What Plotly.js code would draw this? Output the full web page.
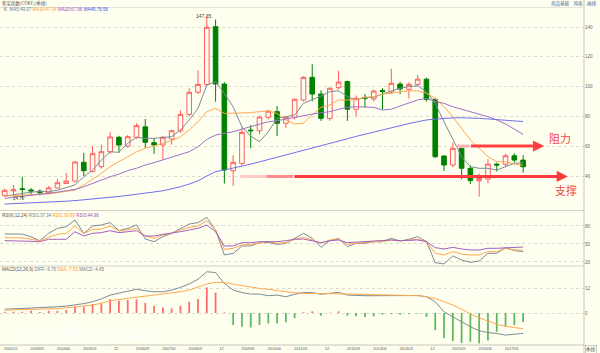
<!DOCTYPE html>
<html><head><meta charset="utf-8">
<script src="https://cdn.plot.ly/plotly-3.0.1.min.js"></script>
<style>html,body{margin:0;padding:0;background:#FFFFEF;}#chart{width:600px;height:353px;}</style>
</head><body><div id="chart"></div>
<script>
const quarters = ['200212','200303','200306','200309','200312','200403','200406','200409','200412','200503','200506','200509','200512','200603','200606','200609','200612','200703','200706','200709','200712','200803','200806','200809','200812','200903','200906','200909','200912','201003','201006','201009','201012','201103','201106','201109','201112','201203','201206','201209','201212','201303','201306','201309','201312','201403','201406','201409','201412','201503','201506','201509','201512','201603','201606','201609','201612','201703','201706','201709'];
const openP  = [27,30,31.5,30.6,29.9,28.8,32,35,36.6,49.2,43,46.3,56.3,66,60.1,66,73,62.4,60.8,64.8,70.4,81.4,96.2,101.5,140.2,101.7,43.6,48.5,70.8,70.4,79.4,83.2,75.4,79.4,91,106.2,95,78.7,99.3,103.4,84.8,92.6,91.7,97.4,96.4,101.7,98.2,101.5,105,91.5,53.4,47.4,58.6,45.2,36.8,38,48,47.9,53.6,50.7];
const highP  = [31.5,34,39.5,32,31,33.3,38,42,50,55.4,60,61,69.7,67,67.5,75.4,78.3,65.5,67,71,84,99,111,147.35,145,103,54,73,74.2,80,84,87,80,92,107,115,97.5,99.5,110.7,104,94,95,98,99,112,103,103,107.8,106,92,54,62.4,59,47,41.8,51.4,49,55,55.2,54];
const lowP   = [26,27,24.7,27.5,27,28,31.5,34.5,35.5,40,42.5,45,55,55.6,59,65,59,54.8,50.7,61,69,80,95,100,89.9,35,33.3,47,58.6,68,78,66.8,72,78,90,90,77,77,98,77,80,86,90,84.8,95,95,92,100,90,52,43.4,46,37.8,34.6,26.1,35,43,46,49,42.2];
const closeP = [30.4,31,31,30,28.8,32,35.5,36.6,49.4,43.6,55,56.3,66.2,60.8,66.4,73.8,62.6,60.8,66,70.4,81.4,96.2,101.5,139.8,101.7,44,49.2,69.3,70.4,79.6,83.6,75.4,79.4,91.5,106.2,95,78.7,98.9,103,84.8,92.2,92.2,97,96.6,102.2,98.4,101.5,105,91.5,53,47.4,58.6,45.2,36.9,38.4,48,47.4,53.6,50.7,46.2];
const ma5  = [26.5,27.5,28.5,29.2,29.6,29.5,30.5,32,34,39.5,44,50.7,56.3,55.9,62,66,65.3,65.3,66,66.4,70.9,77.6,85.4,101,103.3,95.5,86.5,73,66.8,63,69.7,78.7,79.8,81,88.8,91,93.7,96.6,97.2,93.2,91,92.8,92.8,95,97,98.9,100,100.6,96.6,88.8,76.4,64.2,53,46.3,45.2,45.2,44,46.3,48.5,49.07];
const ma10 = [26.6,27,27.3,27.6,27.8,28,28.8,29.7,30.6,34,37.8,41.8,46.3,49.6,53,56.3,58.6,60.1,61.9,63.7,66.4,70.9,76.4,83.2,85.4,82,82,82,82.5,83.2,83.8,82,77.6,74.9,75.4,81,86.1,87.6,91,91,91.5,92.8,93.2,95,95.5,96.6,97.2,97.2,95.5,92.1,86.5,79.8,72,64.2,58.6,53,49.6,49.6,48,47.34];
const ma20 = [25,25.6,26.2,26.8,27.5,28.4,29.2,30.1,31,32.8,35.1,37.3,39.5,41.3,43.6,45.2,47.4,49,50.7,52.5,54.1,56.3,59.7,64.6,67.5,68.7,69.7,71.5,73.1,74.9,76.4,77.1,78.3,79.4,80.3,81.6,82.5,83.2,84.8,86.1,86.5,86.5,86.1,84.3,84.8,87,88.8,91,92.1,89.9,88.8,86.5,84.8,83.2,81.6,79.8,77.6,74.9,71.5,67.96];
const ma45 = [21.2,21.4,21.6,21.8,22,22.3,22.7,23.1,23.5,24,24.4,25,25.6,26.3,27,27.9,28.6,29.3,30.1,31.3,32.8,34.6,36.8,40,42.9,44,45.2,46.5,48,49.5,51,52.6,54.1,55.7,57.3,58.8,60.4,61.9,63.5,65,66.6,68.1,69.7,71.1,72.5,73.9,75.2,76.4,77.6,78.2,78.7,79,79.1,79,78.7,78.3,77.8,77.3,76.9,76.56];
const rsi1 = [66.7,66.7,66.5,62,55.5,67.8,76,78.9,90,67.8,80,81.7,85.6,72.2,76,81.7,58.3,53.9,62.2,67.8,76,83.3,85.6,94.4,73.3,31.7,34.4,46.7,46.7,52.2,52.5,49.4,51,59.4,67.8,59.4,44.4,55.5,59.4,45.6,51.1,51.1,53.9,53.9,59.4,55,57.8,62.2,53.9,18.9,16.7,30,23.3,19.4,21.7,34.4,34.4,43.9,38.9,37.34];
const rsi2 = [60.6,60.6,60,58,55.5,61.1,66.1,67.8,80,67.8,74.4,74.7,80,71.7,73.3,76,63.3,59.4,65,67.8,73.3,77.8,80,88.9,73.3,41.1,42.8,48.3,49.4,52.2,53.9,51.1,52.2,57.8,61.1,56.7,51.1,56.7,57.8,49.4,51.1,52.2,53.9,53.9,56.7,55,56.7,57.8,53.9,34.4,31.7,37.2,33.3,31.7,31.7,37.2,37.2,42.8,40,39.89];
const rsi3 = [55.5,55.5,55,54.5,53.9,57.8,57.8,57.8,70.5,63.3,67.8,68.9,72.2,68.9,70.5,72.2,63.3,63.3,66.1,67.8,70.5,73.3,76,81.7,70.5,46.7,46.7,52.2,52.2,53.9,53.9,53.9,55.5,57.8,58.3,55.5,52.2,55.5,56.7,52.2,52.7,53.9,55,55.5,56.7,55.5,56.7,56.7,53.9,43.9,41.7,44.4,41.7,40,40,42.8,42.8,43.9,44.5,44.96];
const diff = [1.8,2,2.1,2.2,2.3,2.6,3,3.3,3.8,4.5,5.4,6.8,8.6,9.5,10.2,11.4,10.7,10.2,10.2,11,12.3,13.9,16.2,19.8,19.4,14.2,11,9.8,9.1,9.1,8.3,8.6,7.8,9,9.8,9.8,9,9.4,9.9,8.6,8.3,8.3,8.3,8.3,8.3,8.3,8.4,8.4,7.8,5.4,0.6,-1.8,-4.2,-6.6,-8.5,-9.4,-9.8,-10.6,-10.2,-9.76];
const dea  = [1.4,1.5,1.6,1.7,1.7,1.8,2.1,2.5,3,3.4,3.8,4.7,5.9,6.5,7,7.6,8.2,8.6,9.1,9.6,10.2,11,12.3,13.9,14.7,14.6,13.9,13.1,12.6,11.8,11.4,10.7,10.2,9.8,9.4,9.4,9.4,9.4,9.4,9.1,9,8.9,8.8,8.6,8.6,8.5,8.5,8.3,7.8,7,5.4,3.8,1.8,-0.5,-2.3,-4,-5.4,-6.4,-7,-7.53];
const macd = [0.6,0.6,0.6,1.1,0.5,1.1,1.1,1.4,3,3,4.3,4.6,6.6,5.9,6.2,6.6,4.9,3.4,2.6,2.2,3.4,5.4,6.7,12.3,9.8,0.3,-5.8,-6.6,-7,-5.8,-5,-5,-4.5,-2.5,0.4,0.8,-1.3,0.2,0.8,-1.3,-1.6,-1.9,-1.6,-0.8,-0.5,-0.8,-0.5,-0.3,-1.9,-8.2,-12,-13.5,-14.4,-13.8,-14.6,-13.2,-9,-6.6,-5.8,-4.45];
const tickLabels = ['200212','200309','200406','200503','12','200609','200706','200803','12','200909','201006','201103','12','201209','201306','201403','12','201509','201606','201703'];
const priceTicks = [40,60,80,100,120,140];
const rsiTicks = [20,50,80];
const macdTicks = [0,12];
const resistance = {level: 60.1, from: 51.4, to: 61.4};
const support = {level: 39.7, from: 26.8, to: 64.1};

const BG = '#FFFFEF';
const idx = quarters.map((q, i) => i);
const py = y => (345 - y) / 337;   // pixel row -> paper
const line = (y, color, xa, ya) => ({type:'scatter', mode:'lines', x: idx, y: y, xaxis: xa||'x', yaxis: ya, line:{color: color, width: 1}, hoverinfo:'skip'});

const traces = [
  {type:'candlestick', x: idx, open: openP, high: highP, low: lowP, close: closeP, xaxis:'x', yaxis:'y',
   increasing:{line:{color:'#FF5C5C', width:1}, fillcolor: BG},
   decreasing:{line:{color:'#008000', width:1}, fillcolor:'#008000'}, hoverinfo:'skip'},
  line(ma5, '#7D8A98', 'x', 'y'),
  line(ma10, '#FFA850', 'x', 'y'),
  line(ma20, '#A070C8', 'x', 'y'),
  line(ma45, '#6F6FF0', 'x', 'y'),
  line(rsi1, '#7D8A98', 'x', 'y2'),
  line(rsi2, '#FFA850', 'x', 'y2'),
  line(rsi3, '#A060C0', 'x', 'y2'),
  {type:'bar', x: idx, y: macd, xaxis:'x', yaxis:'y3', width: 0.2,
   marker:{color: macd.map(v => v >= 0 ? '#FF6A6A' : '#5DB85D'), line:{width:0}}, hoverinfo:'skip'},
  line(diff, '#7D8A98', 'x', 'y3'),
  line(dea, '#FFA850', 'x', 'y3')
];

const axisFont = {size: 4.5, color: '#666'};
const span = (c, t) => '<span style="color:' + c + '">' + t + '</span>';
const layout = {
  width: 600, height: 353,
  margin: {l: 0, r: 16, t: 8, b: 8, pad: 0},
  paper_bgcolor: BG, plot_bgcolor: BG,
  showlegend: false, boxgap: 0.25,
  font: {family: 'Liberation Sans, Arial, sans-serif', color: '#444'},
  xaxis: {range: [-0.535, 65.93], anchor: 'y3', tickvals: tickLabels.map((t, i) => 3 * i + 0.68), ticktext: tickLabels,
          tickfont: {size: 4, color: '#555'}, showgrid: false, zeroline: false, ticks: '', rangeslider: {visible: false}},
  yaxis: {domain: [py(210), 1], range: [17.2, 152.75], side: 'right', tickvals: priceTicks, tickfont: axisFont,
          gridcolor: '#DADAD0', griddash: 'dot', zeroline: false, ticks: ''},
  yaxis2: {domain: [py(266), py(211)], range: [13.3, 105], side: 'right', tickvals: rsiTicks, tickfont: axisFont,
           gridcolor: '#DADAD0', griddash: 'dot', zeroline: false, ticks: ''},
  yaxis3: {domain: [0, py(266)], range: [-15.36, 22.56], side: 'right', tickvals: macdTicks, tickfont: axisFont,
           gridcolor: '#DADAD0', griddash: 'dot', zeroline: false, ticks: ''},
  shapes: [
    {type:'line', xref:'paper', yref:'paper', x0:1, x1:1, y0:-0.03, y1:1.03, line:{color:'#C4C4BC', width:1}},
    {type:'line', xref:'paper', yref:'paper', x0:0, x1:1, y0:py(7.5), y1:py(7.5), line:{color:'#E4E4DA', width:1}},
    {type:'line', xref:'paper', yref:'paper', x0:0, x1:1, y0:py(210.5), y1:py(210.5), line:{color:'#D0D0C6', width:1}},
    {type:'line', xref:'paper', yref:'paper', x0:0, x1:1, y0:py(266), y1:py(266), line:{color:'#D0D0C6', width:1}},
    {type:'line', xref:'paper', yref:'paper', x0:0, x1:1, y0:0, y1:0, line:{color:'#C4C4BC', width:1}},
    {type:'line', xref:'x', yref:'y', x0:support.from, x1:support.from+3, y0:support.level, y1:support.level, line:{color:'#FFC8C8', width:3}},
    {type:'line', xref:'x', yref:'y', x0:support.from+3, x1:support.from+6, y0:support.level, y1:support.level, line:{color:'#FF8C8C', width:3}},
    {type:'line', xref:'x', yref:'y', x0:resistance.from, x1:resistance.from+1.5, y0:resistance.level, y1:resistance.level, line:{color:'#FFB0B0', width:3}}
  ],
  annotations: [
    {xref:'paper', yref:'paper', x:0, y:py(3), xanchor:'left', yanchor:'middle', showarrow:false,
     text:'焦炭指数(COKE)(季线)', font:{size:4.5, color:'#555', family:'Noto Sans CJK SC'}},
    {xref:'paper', yref:'paper', x:598/584, y:py(3), xanchor:'right', yanchor:'middle', showarrow:false,
     text:'商品基础　风格　画线', font:{size:4.5, color:'#2F6F9F', family:'Noto Sans CJK SC'}},
    {xref:'paper', yref:'paper', x:2/584, y:py(10), xanchor:'left', yanchor:'middle', showarrow:false, font:{size:4.5, color:'#555'},
     text:'K  ' + span('#6E7E90','MA5:49.07') + ' ' + span('#FF9A30','MA10:47.34') + ' ' + span('#9A50C0','MA20:67.96') + ' ' + span('#4848E8','MA45:76.56')},
    {xref:'paper', yref:'paper', x:0, y:py(215), xanchor:'left', yanchor:'middle', showarrow:false, font:{size:4.5, color:'#555'},
     text:'RSI(6,12,24) ' + span('#6E7E90','RSI1:37.34') + ' ' + span('#FF9A30','RSI2:39.89') + ' ' + span('#9A50C0','RSI3:44.96')},
    {xref:'paper', yref:'paper', x:0, y:py(269), xanchor:'left', yanchor:'middle', showarrow:false, font:{size:4.5, color:'#555'},
     text:'MACD(12,26,9) ' + span('#6E7E90','DIFF:-9.76') + ' ' + span('#FF9A30','DEA:-7.53') + ' ' + span('#777','MACD:-4.45')},
    {xref:'x', yref:'y', x:23, y:147.35, xanchor:'right', yanchor:'middle', xshift:7, showarrow:false, text:'147.35', font:{size:5, color:'#444'}},
    {xref:'x', yref:'y', x:2, y:24.7, xanchor:'right', yanchor:'middle', xshift:5, showarrow:false, text:'24.70', font:{size:4.5, color:'#444'}},
    {xref:'x', yref:'y', x:resistance.to, y:resistance.level, axref:'x', ayref:'y', ax:resistance.from+1.5, ay:resistance.level,
     showarrow:true, arrowhead:2, arrowsize:0.75, arrowwidth:3, arrowcolor:'#FF4040', text:''},
    {xref:'x', yref:'y', x:support.to, y:support.level, axref:'x', ayref:'y', ax:support.from+6, ay:support.level,
     showarrow:true, arrowhead:2, arrowsize:0.75, arrowwidth:3, arrowcolor:'#FF3B3B', text:''},
    {xref:'x', yref:'y', x:63.2, y:65.5, showarrow:false, text:'阻力', font:{size:11, color:'#F04848', family:'Noto Sans CJK SC'}},
    {xref:'x', yref:'y', x:63.9, y:30.6, showarrow:false, text:'支撑', font:{size:11, color:'#F04848', family:'Noto Sans CJK SC'}},
    {xref:'paper', yref:'paper', x:591/584, y:py(349), xanchor:'center', yanchor:'middle', showarrow:false, text:'季线',
     font:{size:4.5, color:'#555', family:'Noto Sans CJK SC'}, bordercolor:'#999', borderwidth:0.5, borderpad:0.5},
    {xref:'paper', yref:'paper', x:23/584, y:py(333), xanchor:'left', yanchor:'middle', showarrow:false, text:'www.dlyrzby.com',
     font:{size:14, color:'#FFFFFF', family:'DejaVu Serif'}}
  ]
};
Plotly.newPlot('chart', traces, layout, {displayModeBar: false, staticPlot: true});
</script>
</body></html>
